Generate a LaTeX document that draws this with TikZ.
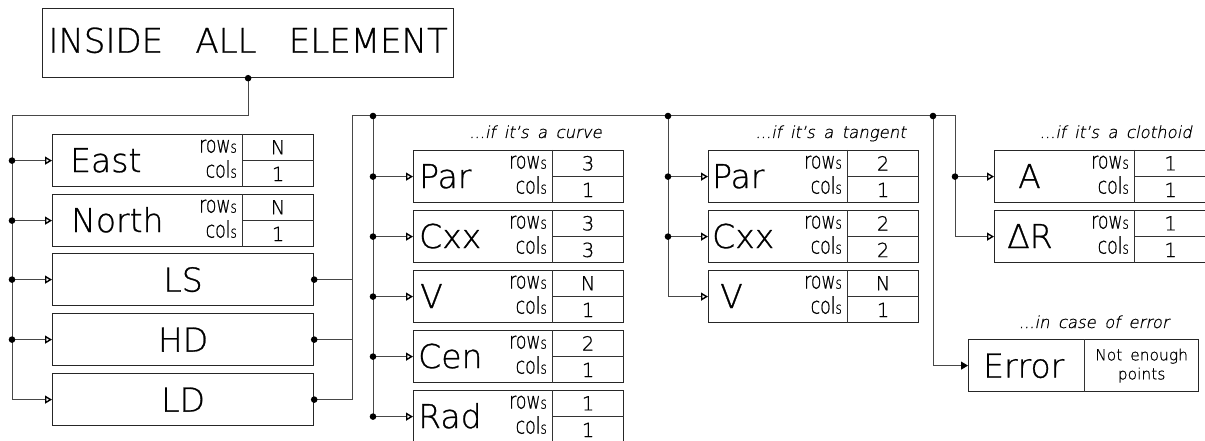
\documentclass[tikz,border=0pt]{standalone}
\usepackage{fontspec}
\IfFontExistsTF{DejaVu Sans ExtraLight}
  {\def\lightname{DejaVu Sans ExtraLight}}
  {\def\lightname{Liberation Sans}}
\setmainfont{\lightname}[WordSpace=1.6, FakeBold=0.8, ItalicFont=\lightname, ItalicFeatures={FakeSlant=0.2}]
\newfontfamily\dimfont{\lightname}[FakeStretch=0.75, FakeBold=0.8]
\usetikzlibrary{arrows.meta,calc}

\newcommand\bigfont{\fontsize{33}{40}\selectfont}
\newcommand\smalls{{\fontsize{16}{16}\selectfont s}}
\newcommand\wide{\hspace{0.95em}}

\tikzset{
  frame/.style={draw=black!85, line width=1.2pt, fill=white, inner sep=0pt},
  cellrule/.style={draw=black!80, line width=1pt},
  wire/.style={draw=black!72, line width=1pt},
  feed/.style={wire, -{Triangle[open, length=7pt, width=8pt, line width=1.4pt, color=black]}},
  feedfull/.style={wire, -{Triangle[length=7pt, width=8pt, color=black]}},
  biglabel/.style={font=\bigfont, inner sep=0pt},
  dimlabel/.style={font=\dimfont\fontsize{23}{23}\selectfont, inner sep=0pt},
  vallabel/.style={font=\fontsize{19.5}{19}\selectfont, inner sep=0pt},
  note/.style={font=\itshape\fontsize{16.5}{17}\selectfont, inner sep=0pt},
}

% junction dot
\newcommand\junction[1]{\fill[black] (#1) circle (3.3pt);}

% matrix box: name, left, top, width, label cell width, label offset, label, rows, cols
\newcommand\matbox[9]{%
  \node[frame, minimum width=#4pt, minimum height=52pt, anchor=north west] (#1) at (#2,#3) {};
  \draw[cellrule] ([xshift=#5pt]#1.north west) -- ([xshift=#5pt]#1.south west);
  \draw[cellrule] ([xshift=#5pt]#1.west) -- (#1.east);
  \node[biglabel, anchor=base west] (#1-name) at ([xshift=#6pt, yshift=-11.5pt]#1.west) {#7};
  \node[dimlabel, anchor=base east] (#1-rows) at ([xshift=#5pt-5pt, yshift=8pt]#1.west) {row\smalls};
  \node[dimlabel, anchor=base east] (#1-cols) at ([xshift=#5pt-5pt, yshift=-17pt]#1.west) {col\smalls};
  \node[vallabel] (#1-r) at ($([xshift=#5pt]#1.north west)!0.5!(#1.east)$) {#8};
  \node[vallabel] (#1-c) at ($([xshift=#5pt]#1.south west)!0.5!(#1.east)$) {#9};
}

\begin{document}
\begin{tikzpicture}[x=1pt, y=-1pt]
\useasboundingbox (0,0) rectangle (1205,441);
\clip (0,0) rectangle (1205,441);

% root element
\node[frame, minimum width=411pt, minimum height=69pt, anchor=north west,
      font=\fontsize{34}{40}\selectfont, text depth=6pt] (title) at (42,8) {INSIDE\wide ALL\wide ELEMENT};

% first level
\matbox{east}{52}{134}{261}{190}{18}{East}{N}{1}
\matbox{north}{52}{194}{261}{190}{19}{North}{N}{1}
\node[frame, minimum width=261pt, minimum height=52pt, anchor=north west, font=\bigfont] (ls) at (52,253) {LS};
\node[frame, minimum width=261pt, minimum height=52pt, anchor=north west, font=\bigfont] (hd) at (52,313) {HD};
\node[frame, minimum width=261pt, minimum height=52pt, anchor=north west, font=\bigfont] (ld) at (52,373) {LD};

% curve case
\node[note, anchor=base east] (curvenote) at (602,138) {...if it's a curve};
\matbox{cpar}{413}{150}{210}{139}{6}{Par}{3}{1}
\matbox{ccxx}{413}{210}{210}{139}{6}{Cxx}{3}{3}
\matbox{cv}{413}{270}{210}{139}{7}{V}{N}{1}
\matbox{ccen}{413}{330}{210}{139}{5}{Cen}{2}{1}
\matbox{crad}{413}{390}{210}{139}{5}{Rad}{1}{1}

% tangent case
\node[note, anchor=base east] (tangentnote) at (906,138) {...if it's a tangent};
\matbox{tpar}{708}{150}{210}{139}{4}{Par}{2}{1}
\matbox{tcxx}{708}{210}{210}{139}{4}{Cxx}{2}{2}
\matbox{tv}{708}{270}{210}{139}{12}{V}{N}{1}

% clothoid case
\node[note, anchor=base east] (clothoidnote) at (1192,138) {...if it's a clothoid};
\matbox{ka}{994}{150}{212}{140}{24}{A}{1}{1}
\matbox{kdr}{994}{210}{212}{140}{13}{ΔR}{1}{1}

% error case
\node[note, anchor=base east] (errornote) at (1169,328) {...in case of error};
\node[frame, minimum width=230pt, minimum height=52pt, anchor=north west] (err) at (968,339) {};
\draw[cellrule] ([xshift=116pt]err.north west) -- ([xshift=116pt]err.south west);
\node[biglabel, anchor=base west] (err-name) at ([xshift=15pt, yshift=-12pt]err.west) {Error};
\node[font=\fontsize{15.5}{19}\selectfont, align=center, inner sep=0pt] (err-msg)
  at ($([xshift=116pt]err.west)!0.5!(err.east)$) {Not enough\\points};

% junction points
\coordinate (t1) at (248,116);
\coordinate (t2) at (12,116);
\coordinate (b1) at (352,116);
\coordinate (cvx) at (373,116);
\coordinate (tgx) at (668,116);
\coordinate (erx) at (933,116);
\coordinate (kx) at (955,116);

% main trunk
\draw[feed] (title.south) |- (t2) |- (ld.west);
\foreach \n in {east,north,ls,hd}{
  \draw[feed] (t2 |- \n.west) -- (\n.west);
  \junction{t2 |- \n.west}
}
\junction{title.south}

% second trunk from LS / HD / LD
\draw[wire] (ls.east) -- (b1 |- ls.east);
\draw[wire] (hd.east) -- (b1 |- hd.east);
\draw[feed] (ld.east) -| (b1) -- (kx) |- (kdr.west);
\junction{ls.east}
\junction{hd.east}
\junction{ld.east}

% curve branches
\draw[wire] (cvx) -- (cvx |- crad.west);
\foreach \n in {cpar,ccxx,cv,ccen,crad}{
  \draw[feed] (cvx |- \n.west) -- (\n.west);
  \junction{cvx |- \n.west}
}
\junction{cvx}

% tangent branches
\draw[feed] (tgx) |- (tv.west);
\foreach \n in {tpar,tcxx}{
  \draw[feed] (tgx |- \n.west) -- (\n.west);
  \junction{tgx |- \n.west}
}
\junction{tgx}

% clothoid branches
\draw[feed] (kx |- ka.west) -- (ka.west);
\junction{kx |- ka.west}

% error branch
\draw[feedfull] (erx) |- (err.west);
\junction{erx}
\end{tikzpicture}
\end{document}
